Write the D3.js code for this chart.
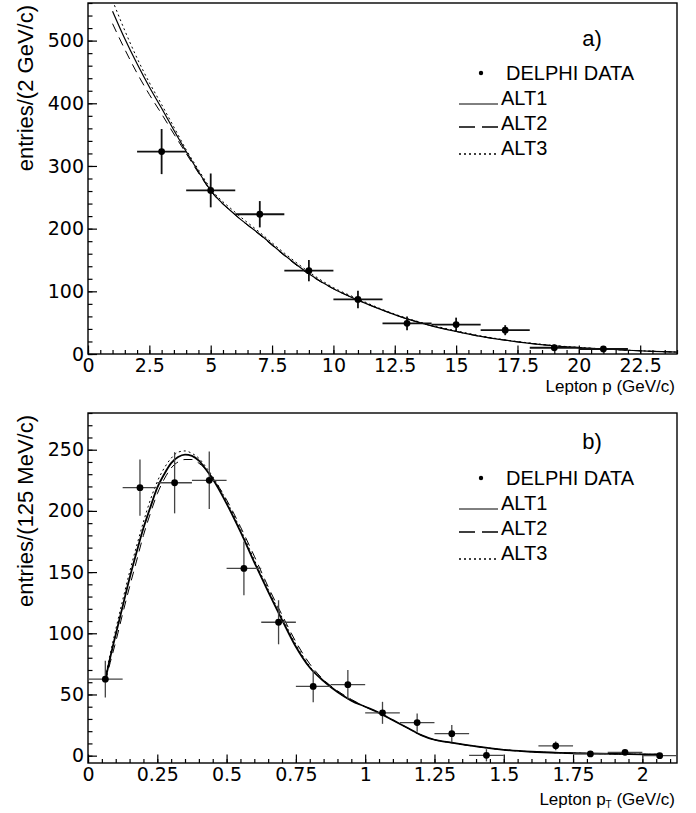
<!DOCTYPE html>
<html>
<head>
<meta charset="utf-8">
<script src="https://cdn.jsdelivr.net/npm/d3@7"></script>
<style>
  body { margin: 0; background: #fff; }
  svg { display: block; }
</style>
</head>
<body>
<script>
// panel a) lepton momentum
const momX = [3, 5, 7, 9, 11, 13, 15, 17, 19, 21];
const momY = [323, 261, 223, 133, 87, 49, 47, 38, 10, 8];
const momErr = [36, 27, 21, 17, 14, 11, 11, 8, 5, 4];
const momCurveX = [1, 1.5, 2, 2.5, 3, 3.5, 4, 4.5, 5, 6, 7, 8, 9, 10, 11, 12, 13, 14, 15, 16, 17, 18, 19, 20, 21, 22, 23, 24];
const alt1Mom = [547, 503, 463, 426, 392, 357, 323, 291, 261, 222, 191, 158, 128, 104, 86, 70, 56, 45, 36, 28, 22, 17, 13.2, 10.3, 8, 6, 4.3, 3];
const alt2Mom = [527, 486, 448, 414, 383, 351, 320, 289, 260, 222, 190, 157, 127, 104, 86, 70, 56, 45, 36, 28, 22, 17, 13, 10, 8, 6, 4.2, 3];
const alt3Mom = [564, 516, 472, 433, 398, 362, 326, 294, 264, 226, 194, 161, 131, 106, 88, 71, 57, 46, 37, 29, 22.5, 17.5, 13.5, 10.5, 8.2, 6.1, 4.4, 3.1];
const momXTicks = [0, 2.5, 5, 7.5, 10, 12.5, 15, 17.5, 20, 22.5];
const momYTicks = [0, 100, 200, 300, 400, 500];

// panel b) lepton transverse momentum
const ptX = [0.0625, 0.1875, 0.3125, 0.4375, 0.5625, 0.6875, 0.8125, 0.9375, 1.0625, 1.1875, 1.3125, 1.4375, 1.6875, 1.8125, 1.9375, 2.0625];
const ptY = [62.5, 219, 223, 225, 153, 109, 56.6, 58, 35, 27, 18, 0.3, 8, 1.4, 2.7, 0];
const ptErr = [15, 23, 25, 23.5, 22, 18, 13, 12, 9, 7.5, 7, 5, 3.5, 1.5, 2, 1];
const ptCurveX = [0.0625, 0.08, 0.1, 0.125, 0.15, 0.175, 0.2, 0.225, 0.25, 0.275, 0.3, 0.325, 0.35, 0.375, 0.4, 0.425, 0.45, 0.5, 0.55, 0.6, 0.65, 0.7, 0.75, 0.8, 0.85, 0.9, 0.95, 1.0, 1.05, 1.1, 1.15, 1.2, 1.25, 1.3, 1.4, 1.5, 1.6, 1.7, 1.8, 1.9, 2.0, 2.0625];
const alt1Pt = [62, 80, 99, 122, 145, 166, 186, 203, 219, 230, 239, 244, 246, 245, 241, 234, 226, 206, 183, 158, 134, 111, 89, 72, 61, 52, 45, 40, 35, 29, 23, 17, 13, 11, 7.5, 4.8, 3.2, 2.3, 1.8, 1.4, 1.1, 1];
const alt2Pt = [60, 76, 93, 116, 138, 159, 180, 198, 214, 226, 235, 240, 242, 242, 239, 234, 227, 209, 187, 163, 138, 115, 93, 75, 62, 53, 46, 40, 35, 29, 23, 17, 13, 11, 7.5, 4.8, 3.2, 2.3, 1.8, 1.4, 1.1, 1];
const alt3Pt = [64, 83, 103, 127, 150, 171, 191, 209, 224, 235, 243, 248, 249, 247, 243, 236, 228, 208, 185, 160, 136, 113, 91, 73, 61, 52, 45, 40, 35, 29, 23, 17, 13, 11, 7.5, 4.8, 3.2, 2.3, 1.8, 1.4, 1.1, 1];
const ptXTicks = [0, 0.25, 0.5, 0.75, 1, 1.25, 1.5, 1.75, 2];
const ptYTicks = [0, 50, 100, 150, 200, 250];

const legendNames = ["DELPHI DATA", "ALT1", "ALT2", "ALT3"];
const lineDash = [null, "9,6", "2,3"];

const W = 696, H = 813;
const svg = d3.select("body").append("svg")
  .attr("width", W)
  .attr("height", H);

function drawPanel(p) {
  const x = d3.scaleLinear().domain(p.xDomain).range([88, 677]);
  const y = d3.scaleLinear().domain(p.yDomain).range([p.bottom, p.top]);
  const g = svg.append("g");
  const fmt = d => String(d);

  // clip for the curves
  g.append("clipPath").attr("id", p.id + "-clip")
    .append("rect")
    .attr("x", 88).attr("y", p.top)
    .attr("width", 677 - 88).attr("height", p.bottom - p.top);

  // minor ticks
  g.append("g")
    .attr("transform", "translate(0," + p.bottom + ")")
    .call(d3.axisBottom(x).tickValues(p.xMinor).tickSizeInner(-4).tickSizeOuter(0).tickFormat(""))
    .call(a => a.select(".domain").remove());
  g.append("g")
    .attr("transform", "translate(88,0)")
    .call(d3.axisLeft(y).tickValues(p.yMinor).tickSizeInner(-4.5).tickSizeOuter(0).tickFormat(""))
    .call(a => a.select(".domain").remove());

  // major ticks + labels
  const xa = g.append("g")
    .attr("transform", "translate(0," + p.bottom + ")")
    .call(d3.axisBottom(x).tickValues(p.xTicks).tickFormat(fmt).tickSizeInner(-8.5).tickSizeOuter(0).tickPadding(5));
  xa.select(".domain").remove();
  xa.selectAll("text").attr("font-family", "DejaVu Sans").attr("font-size", 19).attr("fill", "#000");

  const ya = g.append("g")
    .attr("transform", "translate(88,0)")
    .call(d3.axisLeft(y).tickValues(p.yTicks).tickFormat(fmt).tickSizeInner(-9).tickSizeOuter(0).tickPadding(4));
  ya.select(".domain").remove();
  ya.selectAll("text").attr("font-family", "DejaVu Sans").attr("font-size", 19).attr("fill", "#000");

  g.selectAll(".tick line").attr("stroke", "#000").attr("stroke-width", 1.2);

  // frame
  g.append("rect")
    .attr("x", 88).attr("y", p.top)
    .attr("width", 677 - 88).attr("height", p.bottom - p.top)
    .attr("fill", "none").attr("stroke", "#000").attr("stroke-width", 1.4);

  // fit curves
  const curves = g.append("g").attr("clip-path", "url(#" + p.id + "-clip)");
  p.curves.forEach((vals, k) => {
    const line = d3.line()
      .x((d, i) => x(p.curveX[i]))
      .y(d => y(d))
      .curve(d3.curveMonotoneX);
    curves.append("path")
      .attr("d", line(vals))
      .attr("fill", "none")
      .attr("stroke", "#000")
      .attr("stroke-width", k === 0 ? p.solidWidth : 1)
      .attr("stroke-dasharray", lineDash[k]);
  });

  // data points with error bars
  const pts = g.append("g").attr("clip-path", "url(#" + p.id + "-clip)");
  p.dataX.forEach((xv, i) => {
    pts.append("line")
      .attr("x1", x(xv - p.halfBin)).attr("x2", x(xv + p.halfBin))
      .attr("y1", y(p.dataY[i])).attr("y2", y(p.dataY[i]))
      .attr("stroke", p.errColor).attr("stroke-width", p.errWidth);
    pts.append("line")
      .attr("x1", x(xv)).attr("x2", x(xv))
      .attr("y1", y(p.dataY[i] - p.dataErr[i])).attr("y2", y(p.dataY[i] + p.dataErr[i]))
      .attr("stroke", p.errColor).attr("stroke-width", p.errWidth);
    pts.append("circle")
      .attr("cx", x(xv)).attr("cy", y(p.dataY[i]))
      .attr("r", 3.4).attr("fill", "#000");
  });

  // panel letter
  g.append("text")
    .attr("x", 592).attr("y", p.top + p.letterDy)
    .attr("text-anchor", "middle")
    .attr("font-family", "Liberation Sans").attr("font-size", 22)
    .text(p.letter);

  // legend
  const ly0 = p.top + p.legendDy;
  const step = 25;
  legendNames.forEach((name, k) => {
    const ly = ly0 + k * step;
    g.append("text")
      .attr("x", k === 0 ? 506 : 501).attr("y", ly)
      .attr("font-family", "Liberation Sans").attr("font-size", 20)
      .text(name);
    if (k === 0) {
      g.append("circle").attr("cx", 481).attr("cy", ly - 7).attr("r", 2.2).attr("fill", "#000");
    } else {
      g.append("line")
        .attr("x1", 459).attr("x2", 498)
        .attr("y1", ly - (k === 2 ? 3 : 1)).attr("y2", ly - (k === 2 ? 3 : 1))
        .attr("stroke", "#000").attr("stroke-width", k === 1 ? 1 : 1.3)
        .attr("stroke-dasharray", k === 1 ? null : (k === 2 ? "16,7" : "2,3"));
    }
  });

  // axis titles
  const xt = g.append("text")
    .attr("x", 675).attr("y", p.bottom + p.xTitleDy)
    .attr("text-anchor", "end")
    .attr("font-family", "Liberation Sans").attr("font-size", 17);
  p.xTitle(xt);

  g.append("text")
    .attr("transform", "translate(33," + (p.top + 2) + ") rotate(-90)")
    .attr("text-anchor", "end")
    .attr("font-family", "Liberation Sans").attr("font-size", 22)
    .text(p.yTitle);
}

drawPanel({
  id: "mom",
  top: 3, bottom: 354,
  xDomain: [0, 24], yDomain: [0, 560],
  xTicks: momXTicks, yTicks: momYTicks,
  xMinor: d3.range(0, 24.01, 0.5), yMinor: d3.range(0, 561, 20),
  curveX: momCurveX, curves: [alt1Mom, alt2Mom, alt3Mom],
  dataX: momX, dataY: momY, dataErr: momErr, halfBin: 1,
  errColor: "#111", errWidth: 1.8, solidWidth: 1.2,
  letter: "a)", letterDy: 43, legendDy: 77,
  xTitleDy: 38,
  xTitle: t => t.text("Lepton p (GeV/c)"),
  yTitle: "entries/(2 GeV/c)"
});

drawPanel({
  id: "pt",
  top: 413, bottom: 763,
  xDomain: [0, 2.125], yDomain: [-6, 280],
  xTicks: ptXTicks, yTicks: ptYTicks,
  xMinor: d3.range(0, 2.126, 0.05), yMinor: d3.range(0, 281, 10),
  curveX: ptCurveX, curves: [alt1Pt, alt2Pt, alt3Pt],
  dataX: ptX, dataY: ptY, dataErr: ptErr, halfBin: 0.0625,
  errColor: "#444", errWidth: 1.3, solidWidth: 1.8,
  letter: "b)", letterDy: 36, legendDy: 72,
  xTitleDy: 42,
  xTitle: t => {
    t.append("tspan").text("Lepton p");
    t.append("tspan").attr("font-size", 10).attr("dy", 3).text("T");
    t.append("tspan").attr("dy", -3).text(" (GeV/c)");
  },
  yTitle: "entries/(125 MeV/c)"
});
</script>
</body>
</html>
